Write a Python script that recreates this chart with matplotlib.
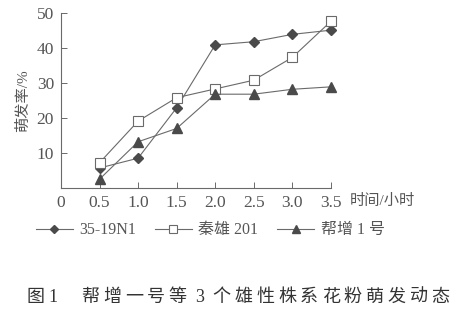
import matplotlib.pyplot as plt

plt.rcParams['font.family'] = ['Liberation Serif', 'Noto Sans CJK SC']

# --------- DATA ---------
hours = [0.5, 1.0, 1.5, 2.0, 2.5, 3.0, 3.5]
rate_35_19n1 = [5.7, 8.5, 22.9, 40.9, 41.8, 43.9, 45.1]
rate_qinxiong201 = [7.2, 19.1, 25.8, 28.3, 30.8, 37.3, 47.6]
rate_bangzeng1 = [2.5, 13.2, 17.0, 26.8, 26.8, 28.2, 28.9]
series_names = ['35-19N1', '秦雄 201', '帮增 1 号']
x_ticks = [0, 0.5, 1.0, 1.5, 2.0, 2.5, 3.0, 3.5]
y_ticks = [10, 20, 30, 40, 50]
caption_head = ['图', '1']
caption_body = '帮增一号等3个雄性株系花粉萌发动态'

# --------- PLOT ---------
line_c = '#6a6a6a'
mark_c = '#4a4a4a'
txt_c = '#555555'

fig = plt.figure(figsize=(4.62, 3.18), dpi=100)
ax = fig.add_axes([0.132, 0.409, 0.584, 0.55])

h1, = ax.plot(hours, rate_35_19n1, color=line_c, lw=0.8, marker='D', ms=5,
              mfc=mark_c, mec=mark_c, clip_on=False)
h2, = ax.plot(hours, rate_qinxiong201, color=line_c, lw=0.8, marker='s', ms=7.5,
              mfc='white', mec=line_c, mew=0.8, clip_on=False)
h3, = ax.plot(hours, rate_bangzeng1, color=line_c, lw=0.8, marker='^', ms=7.5,
              mfc=mark_c, mec=mark_c, clip_on=False)

ax.set_xlim(0, 3.5)
ax.set_ylim(0, 50)
ax.set_xticks(x_ticks)
ax.set_xticklabels(['0'] + [f'{t:.1f}' for t in x_ticks[1:]])
ax.set_yticks(y_ticks)
ax.tick_params(direction='in', length=4, width=0.7, colors=line_c,
               labelcolor=txt_c, labelsize=12.5, pad=5)
for side in ['top', 'right']:
    ax.spines[side].set_visible(False)
for side in ['left', 'bottom']:
    ax.spines[side].set_color(line_c)
    ax.spines[side].set_linewidth(0.8)

ax.set_ylabel('萌发率/%', color=txt_c, fontsize=11, labelpad=5)
ax.text(1.07, -0.075, '时间/小时', transform=ax.transAxes, color=txt_c,
        fontsize=11, va='center', ha='left')

fig.legend([h1, h2, h3], series_names, loc='center', bbox_to_anchor=(0.455, 0.276),
           ncol=3, frameon=False, fontsize=11.5, labelcolor=txt_c,
           handlelength=2.3, columnspacing=1.2, handletextpad=0.4,
           markerscale=0.85)

# caption, spread out character by character
fig.text(0.076, 0.066, caption_head[0], fontsize=13, color='#333333',
         va='center', ha='center')
fig.text(0.115, 0.066, caption_head[1], fontsize=13, color='#333333',
         va='center', ha='center')
for i, ch in enumerate(caption_body):
    fig.text(0.195 + i * 0.0474, 0.066, ch, fontsize=13, color='#333333',
             va='center', ha='center')

fig.savefig('out.png', dpi=100)
